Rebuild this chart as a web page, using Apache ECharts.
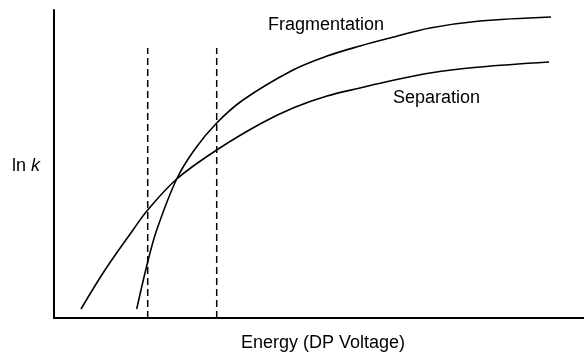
<!DOCTYPE html>
<html>
<head>
<meta charset="utf-8">
<script src="https://cdn.jsdelivr.net/npm/echarts@6/dist/echarts.min.js"></script>
<style>html,body{margin:0;padding:0;background:#fff}#c{width:584px;height:353px}</style>
</head>
<body>
<div id="c"></div>
<script>
// Arbitrary energy (x) and ln k (y) units
const separationX = [27, 51, 79, 93.7, 122.7, 162.7, 206, 239, 273, 306, 336, 376, 426, 495];
const separationY = [9, 48, 88, 108, 139, 168, 194, 210, 222, 230, 237, 245, 251, 256];
const fragmentationX = [82.7, 93.7, 102.7, 122.7, 141, 162.7, 189, 239, 273, 306, 336, 376, 426, 497];
const fragmentationY = [9, 56, 88, 139, 169, 195, 218, 248, 262, 272, 280, 290, 297, 301];
const thresholdX = [93.7, 162.7];
const thresholdTop = 270;
const xName = 'Energy (DP Voltage)';
const curveNames = ['Fragmentation', 'Separation'];

const zip = (xs, ys) => xs.map((x, i) => [x, ys[i]]);
const FONT = 'Liberation Sans, Arial, sans-serif';

const chart = echarts.init(document.getElementById('c'), null, {renderer: 'canvas'});
const series = [
  {name: curveNames[0], type: 'line', data: zip(fragmentationX, fragmentationY), smooth: 0.35, showSymbol: false,
   lineStyle: {color: '#000', width: 1.6}, silent: true},
  {name: curveNames[1], type: 'line', data: zip(separationX, separationY), smooth: 0.35, showSymbol: false,
   lineStyle: {color: '#000', width: 1.6}, silent: true}
];
thresholdX.forEach(x => series.push({
  type: 'line', data: [[x, 0], [x, thresholdTop]], showSymbol: false, silent: true,
  lineStyle: {color: '#000', width: 1.5, type: [7, 4]}
}));

chart.setOption({
  animation: false,
  backgroundColor: '#fff',
  grid: {left: 54, right: 0, top: 10, bottom: 35, containLabel: false},
  xAxis: {type: 'value', min: 0, max: 530, axisLine: {show: true, onZero: false, lineStyle: {color: '#000', width: 2}},
    axisTick: {show: false}, axisLabel: {show: false}, splitLine: {show: false}},
  yAxis: {type: 'value', min: 0, max: 308, axisLine: {show: true, onZero: false, lineStyle: {color: '#000', width: 2}},
    axisTick: {show: false}, axisLabel: {show: false}, splitLine: {show: false}},
  graphic: [
    {type: 'text', left: 268, top: 16, style: {text: curveNames[0], fill: '#000', font: '18px ' + FONT}},
    {type: 'text', left: 393, top: 89, style: {text: curveNames[1], fill: '#000', font: '18px ' + FONT}},
    {type: 'text', left: 241, top: 334, style: {text: xName, fill: '#000', font: '18px ' + FONT}},
    {type: 'text', left: 12, top: 157, style: {text: '{n|ln }{k|k}', rich: {
      n: {fill: '#000', fontSize: 18, fontFamily: FONT},
      k: {fill: '#000', fontSize: 18, fontFamily: FONT, fontStyle: 'italic'}}}}
  ],
  series: series
});
</script>
</body>
</html>
